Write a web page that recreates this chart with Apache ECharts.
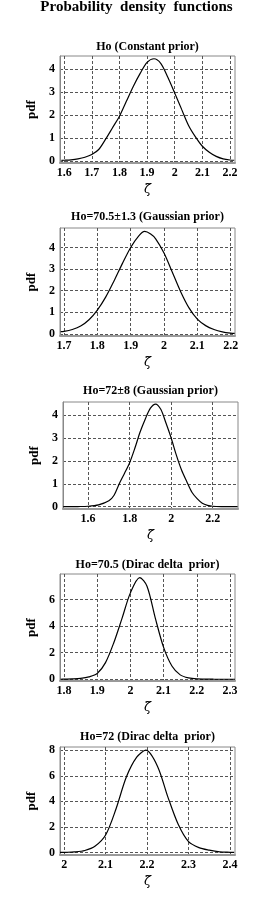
<!DOCTYPE html>
<html><head><meta charset="utf-8">
<script src="https://cdn.jsdelivr.net/npm/echarts@6/dist/echarts.min.js"></script>
<style>html,body{margin:0;padding:0;background:#fff}#c{width:273px;height:910px}</style>
</head><body><div id="c"></div>
<script>
// ---------- data ----------
const mainTitle = 'Probability  density  functions';
const panelTitles = ['Ho (Constant prior)', 'Ho=70.5\u00b11.3 (Gaussian prior)', 'Ho=72\u00b18 (Gaussian prior)', 'Ho=70.5 (Dirac delta  prior)', 'Ho=72 (Dirac delta  prior)'];
const xName = '\u03b6\u0303';
const yName = 'pdf';

const xTicks1 = [1.6, 1.7, 1.8, 1.9, 2.0, 2.1, 2.2];
const xTicks2 = [1.7, 1.8, 1.9, 2.0, 2.1, 2.2];
const xTicks3 = [1.6, 1.8, 2.0, 2.2];
const xTicks4 = [1.8, 1.9, 2.0, 2.1, 2.2, 2.3];
const xTicks5 = [2.0, 2.1, 2.2, 2.3, 2.4];
const yTicks1 = [0, 1, 2, 3, 4];
const yTicks2 = [0, 1, 2, 3, 4];
const yTicks3 = [0, 1, 2, 3, 4];
const yTicks4 = [0, 2, 4, 6];
const yTicks5 = [0, 2, 4, 6, 8];

const zeta1 = [1.59, 1.6, 1.625, 1.65, 1.675, 1.7, 1.725, 1.75, 1.775, 1.8, 1.825, 1.85, 1.875, 1.9, 1.925, 1.95, 1.975, 2.0, 2.025, 2.05, 2.075, 2.1, 2.125, 2.15, 2.175, 2.2, 2.215];
const pdf1  = [0.025, 0.03, 0.05, 0.09, 0.16, 0.28, 0.5, 0.95, 1.45, 1.95, 2.6, 3.25, 3.82, 4.3, 4.46, 4.25, 3.65, 2.96, 2.25, 1.55, 1.05, 0.64, 0.38, 0.2, 0.09, 0.04, 0.03];

const zeta2 = [1.69, 1.7, 1.725, 1.75, 1.775, 1.8, 1.825, 1.85, 1.875, 1.9, 1.925, 1.942, 1.96, 1.975, 2.0, 2.025, 2.05, 2.075, 2.1, 2.125, 2.15, 2.175, 2.2, 2.212];
const pdf2  = [0.1, 0.11, 0.2, 0.36, 0.65, 1.1, 1.7, 2.45, 3.25, 4.0, 4.55, 4.74, 4.62, 4.4, 3.74, 2.85, 1.95, 1.2, 0.68, 0.38, 0.2, 0.09, 0.03, 0.02];

const zeta3 = [1.48, 1.5, 1.55, 1.6, 1.65, 1.7, 1.725, 1.75, 1.775, 1.8, 1.825, 1.85, 1.875, 1.9, 1.925, 1.95, 1.975, 2.0, 2.025, 2.05, 2.075, 2.1, 2.125, 2.15, 2.175, 2.2, 2.25, 2.3, 2.32];
const pdf3  = [0.0, 0.003, 0.008, 0.02, 0.08, 0.26, 0.5, 1.0, 1.45, 1.92, 2.55, 3.25, 3.82, 4.3, 4.48, 4.25, 3.65, 3.0, 2.25, 1.6, 1.1, 0.63, 0.35, 0.15, 0.06, 0.02, 0.005, 0.001, 0.0];

const zeta4 = [1.79, 1.8, 1.825, 1.85, 1.875, 1.9, 1.925, 1.95, 1.975, 2.0, 2.028, 2.05, 2.075, 2.1, 2.125, 2.15, 2.175, 2.2, 2.25, 2.3, 2.315];
const pdf4  = [0.0, 0.01, 0.03, 0.07, 0.18, 0.43, 1.25, 2.75, 4.6, 6.5, 7.65, 7.0, 4.6, 2.4, 1.0, 0.33, 0.1, 0.03, 0.005, 0.0, 0.0];

const zeta5 = [1.99, 2.0, 2.025, 2.05, 2.075, 2.1, 2.125, 2.15, 2.175, 2.197, 2.225, 2.25, 2.275, 2.3, 2.325, 2.35, 2.375, 2.4, 2.41];
const pdf5  = [0.0, 0.01, 0.04, 0.15, 0.5, 1.36, 3.4, 5.9, 7.45, 8.0, 6.75, 4.35, 2.2, 0.84, 0.38, 0.18, 0.05, 0.01, 0.0];

const xRanges = [[1.585, 2.218], [1.688, 2.213], [1.479, 2.322], [1.788, 2.315], [1.99, 2.412]];
const yRanges = [[-0.09, 4.58], [-0.1, 4.9], [-0.1, 4.57], [-0.13, 7.92], [-0.2, 8.25]];

// ---------- layout ----------
const boxes = [
  {left: 60, top: 56, width: 175, height: 107},
  {left: 60, top: 228, width: 175, height: 108},
  {left: 63, top: 402, width: 175, height: 107},
  {left: 60, top: 574, width: 175, height: 107},
  {left: 60, top: 747, width: 175, height: 108}
];
const titleTops = [41, 211, 385, 559, 731];

const zetas = [zeta1, zeta2, zeta3, zeta4, zeta5];
const pdfs = [pdf1, pdf2, pdf3, pdf4, pdf5];
const xTicks = [xTicks1, xTicks2, xTicks3, xTicks4, xTicks5];
const yTicks = [yTicks1, yTicks2, yTicks3, yTicks4, yTicks5];

const serif = '"Liberation Serif", "DejaVu Serif", serif';
const frame = '#888';
const gridCol = '#555';
const fmt = v => String(Math.round(v * 10) / 10);

const option = {
  animation: false,
  backgroundColor: '#fff',
  title: [{
    text: mainTitle, left: 'center', top: 0, padding: 0,
    textStyle: {fontFamily: serif, fontWeight: 'bold', fontSize: 15, color: '#000'}
  }],
  grid: [], xAxis: [], yAxis: [], series: []
};

for (let i = 0; i < 5; i++) {
  const b = boxes[i];
  option.title.push({
    text: panelTitles[i], left: b.left + b.width / 2, textAlign: 'center', top: titleTops[i], padding: 0,
    textStyle: {fontFamily: serif, fontWeight: 'bold', fontSize: 12, color: '#000'}
  });
  option.grid.push({left: b.left, top: b.top, width: b.width, height: b.height,
    show: true, borderColor: frame, borderWidth: 1, backgroundColor: 'transparent'});
  option.xAxis.push({
    type: 'value', gridIndex: i, min: xRanges[i][0], max: xRanges[i][1],
    name: xName, nameLocation: 'middle', nameGap: 20,
    nameTextStyle: {fontFamily: '"DejaVu Serif", serif', fontStyle: 'italic', fontSize: 13, color: '#000'},
    axisLine: {show: true, onZero: false, lineStyle: {color: '#999', width: 2}},
    axisTick: {show: false, customValues: xTicks[i]},
    axisLabel: {customValues: xTicks[i], formatter: fmt, margin: 4,
      fontFamily: serif, fontWeight: 'bold', fontSize: 12, color: '#000'},
    splitLine: {show: true, customValues: xTicks[i], lineStyle: {color: gridCol, type: [3, 2], width: 1}}
  });
  option.yAxis.push({
    type: 'value', gridIndex: i, min: yRanges[i][0], max: yRanges[i][1],
    name: yName, nameLocation: 'middle', nameGap: 17, nameRotate: 90,
    nameTextStyle: {fontFamily: serif, fontWeight: 'bold', fontSize: 13, color: '#000'},
    axisLine: {show: true, lineStyle: {color: frame, width: 1}},
    axisTick: {show: false, customValues: yTicks[i]},
    axisLabel: {customValues: yTicks[i], formatter: fmt, margin: 5,
      fontFamily: serif, fontWeight: 'bold', fontSize: 12, color: '#000'},
    splitLine: {show: true, customValues: yTicks[i], lineStyle: {color: gridCol, type: [3, 2], width: 1}}
  });
  option.series.push({
    type: 'line', xAxisIndex: i, yAxisIndex: i, smooth: 0.3, showSymbol: false,
    clip: true, lineStyle: {color: '#000', width: 1.2},
    data: zetas[i].map((z, k) => [z, pdfs[i][k]])
  });
}

const chart = echarts.init(document.getElementById('c'), null, {renderer: 'canvas'});
chart.setOption(option);
</script>
</body></html>
